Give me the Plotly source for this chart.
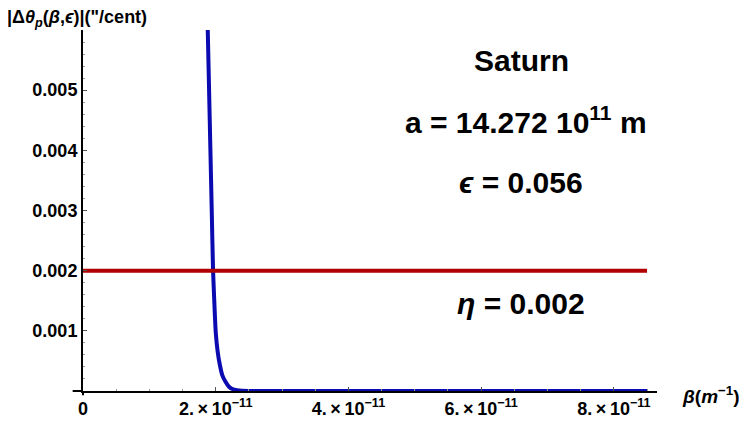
import plotly.graph_objects as go

# curve (beta in 1e-11 m^-1, value in "/cent)
beta_curve = [1.88, 1.90, 1.92, 1.94, 1.96, 1.98, 2.00, 2.03, 2.065, 2.10, 2.15, 2.20, 2.25, 2.32, 2.40, 2.55, 2.8, 4.0, 6.0, 8.5]
dtheta = [0.0060, 0.0050, 0.0040, 0.0030, 0.0020, 0.00145, 0.00098, 0.00065, 0.00042, 0.00026, 0.000149, 0.00007, 0.000033, 0.000012, 0.000004, 0.000001, 0.0, 0.0, 0.0, 0.0]

beta_eta = [0.0, 8.5]
eta = [0.002, 0.002]

x_ticks = [0, 2e-11, 4e-11, 6e-11, 8e-11]
x_ticktext = ["0", "2.\u2009×\u200910<sup>−11</sup>", "4.\u2009×\u200910<sup>−11</sup>",
              "6.\u2009×\u200910<sup>−11</sup>", "8.\u2009×\u200910<sup>−11</sup>"]
y_ticks = [0.001, 0.002, 0.003, 0.004, 0.005]
y_ticktext = ["0.001", "0.002", "0.003", "0.004", "0.005"]

font_fam = "Liberation Sans, Arial, sans-serif"
blue = '#0A0AB0'
red = '#B00000'

fig = go.Figure()
fig.add_trace(go.Scatter(x=[b * 1e-11 for b in beta_curve], y=dtheta, mode='lines',
                         line=dict(color=blue, width=4, shape='spline', smoothing=0.5)))
fig.add_trace(go.Scatter(x=[b * 1e-11 for b in beta_eta], y=eta, mode='lines',
                         line=dict(color=red, width=4)))

# page body has an 8px margin, so the figure is 8px smaller and margins compensate
fig.update_layout(
    width=739, height=413,
    margin=dict(l=75, r=90, t=22, b=30),
    plot_bgcolor='white', paper_bgcolor='white',
    showlegend=False,
    font=dict(family=font_fam, color='black'),
)
fig.update_xaxes(range=[0, 8.65e-11], showgrid=False, zeroline=False, automargin=False,
                 showline=True, linecolor='black', linewidth=2,
                 tickvals=x_ticks, ticktext=x_ticktext,
                 ticks='inside', ticklen=4, tickcolor='#555', tickwidth=1,
                 tickfont=dict(size=18, weight='bold'),
                 minor=dict(dtick=0.5e-11, ticks='inside', ticklen=2, tickcolor='#999'))
fig.update_yaxes(range=[0, 0.006], showgrid=False, zeroline=False, automargin=False,
                 showline=True, linecolor='black', linewidth=2,
                 tickvals=y_ticks, ticktext=y_ticktext,
                 ticks='inside', ticklen=4, tickcolor='#555', tickwidth=1,
                 tickfont=dict(size=18, weight='bold'),
                 minor=dict(dtick=0.0002, ticks='inside', ticklen=2, tickcolor='#999'))

# small axis overhangs like the original
fig.add_shape(type='line', xref='paper', yref='paper', x0=-0.018, x1=0, y0=0, y1=0,
              line=dict(color='black', width=2))
fig.add_shape(type='line', xref='paper', yref='paper', x0=0, x1=0, y0=-0.012, y1=0,
              line=dict(color='black', width=2))

fig.add_annotation(xref='paper', yref='paper', x=-0.136, y=(391 - 18) / 361, xanchor='left', yanchor='middle',
                   text="<b>|Δ<i>θ<sub>p</sub></i>(<i>β</i>,<i>ϵ</i>)|(\"/cent)</b>",
                   showarrow=False, font=dict(size=18))
fig.add_annotation(xref='paper', yref='paper', x=(680 - 83) / 574, y=-0.012, xanchor='left', yanchor='middle',
                   text="<b><i>β</i>(<i>m</i><sup>−1</sup>)</b>",
                   showarrow=False, font=dict(size=19))

texts = ["<b>Saturn</b>", "<b>a = 14.272 10<sup>11</sup> m</b>", "<b><i>ϵ</i> = 0.056</b>", "<b><i>η</i> = 0.002</b>"]
text_x = [521, 526, 521, 521]
text_y = [61, 120, 182, 303]
for t, px_, py in zip(texts, text_x, text_y):
    fig.add_annotation(xref='paper', yref='paper', x=(px_ - 83) / 574, y=(391 - py) / 361,
                       xanchor='center', yanchor='middle', text=t, showarrow=False,
                       font=dict(size=30))

fig.write_html("out.html")
